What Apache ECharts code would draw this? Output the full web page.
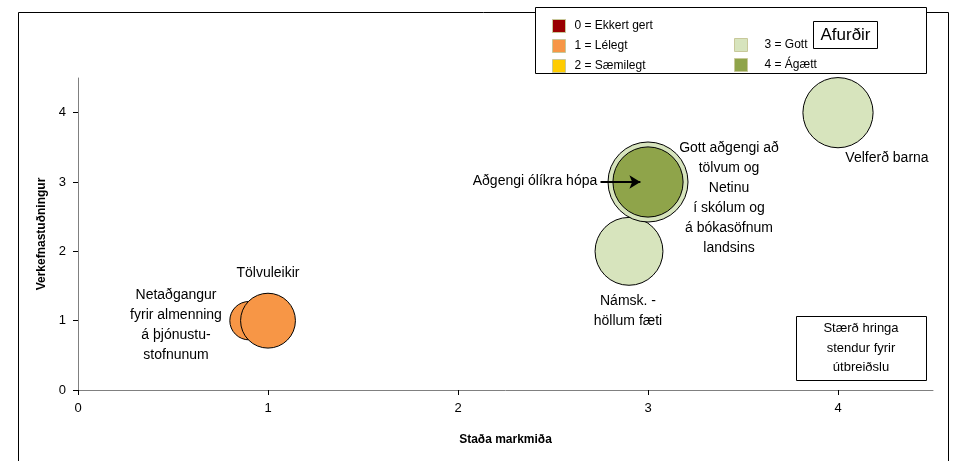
<!DOCTYPE html>
<html><head><meta charset="utf-8">
<script src="https://cdn.jsdelivr.net/npm/echarts@6/dist/echarts.min.js"></script>
<style>html,body{margin:0;padding:0;background:#fff}#c{width:953px;height:461px}</style>
</head><body><div id="c"></div>
<script>
// ---- data ----
const categories = ['0 = Ekkert gert', '1 = Lélegt', '2 = Sæmilegt', '3 = Gott', '4 = Ágætt'];
const itemLabels = [
  'Netaðgangur\nfyrir almenning\ná þjónustu-\nstofnunum',
  'Tölvuleikir',
  'Námsk. -\nhöllum fæti',
  'Gott aðgengi að\ntölvum og\nNetinu\ní skólum og\ná bókasöfnum\nlandsins',
  'Velferð barna',
  'Aðgengi ólíkra hópa'
];
const stadaMarkmida = [0.9, 1, 2.9, 3, 4, 3];
const verkefnastudningur = [1, 1, 2, 3, 4, 3];
const utbreidsla = [23, 47, 72, 100, 77, 77];
const einkunn = [1, 1, 3, 3, 3, 4];
const xTicks = [0, 1, 2, 3, 4];
const yTicks = [0, 1, 2, 3, 4];

// ---- styles / layout ----
const categoryColors = ['#990000', '#F79646', '#FFCC00', '#D7E4BD', '#8FA44A'];
const FONT = '"Liberation Sans", Arial, sans-serif';
const labelLayout = [
  { offset: [-73, 4] },
  { offset: [0, -48] },
  { offset: [-1, 60] },
  { offset: [81, 16] },
  { offset: [49, 45] },
  { offset: [-113, -1] }
];
const arrowIdx = 5;

const series = categories.map((cat, c) => {
  const data = [];
  einkunn.forEach((e, i) => {
    if (e !== c) return;
    data.push({
      name: itemLabels[i],
      value: [stadaMarkmida[i], verkefnastudningur[i], utbreidsla[i]],
      label: {
        show: true, position: 'inside', formatter: itemLabels[i],
        offset: labelLayout[i].offset, align: 'center', verticalAlign: 'middle',
        color: '#000', fontFamily: FONT, fontSize: 14, lineHeight: 20
      }
    });
  });
  const s = {
    name: cat, type: 'scatter', data,
    symbolSize: v => 80 * Math.sqrt(v[2] / 100),
    itemStyle: { color: categoryColors[c], borderColor: '#000', borderWidth: 1, opacity: 1 },
    emphasis: { disabled: true },
    z: 2 + c
  };
  if (c === einkunn[arrowIdx]) {
    s.markLine = {
      silent: true, z: 30, symbol: ['none', 'arrow'], symbolSize: [10, 11],
      lineStyle: { color: '#000', width: 2, type: 'solid' },
      label: { show: false }, emphasis: { disabled: true },
      data: [[
        { coord: [stadaMarkmida[arrowIdx] - 0.25, verkefnastudningur[arrowIdx]] },
        { coord: [stadaMarkmida[arrowIdx] - 0.04, verkefnastudningur[arrowIdx]] }
      ]]
    };
  }
  return s;
});

const legendCommon = {
  orient: 'vertical', icon: 'rect', itemWidth: 13, itemHeight: 13, itemGap: 6,
  selectedMode: false,
  itemStyle: { borderColor: '#C8C89A', borderWidth: 1 },
  textStyle: { fontFamily: FONT, fontSize: 12, color: '#000' }
};

const chart = echarts.init(document.getElementById('c'), null, { renderer: 'canvas' });
chart.setOption({
  animation: false,
  backgroundColor: '#fff',
  grid: { left: 78, right: 20, top: 78, bottom: 71, containLabel: false },
  xAxis: {
    type: 'value', min: 0, max: 4.5, interval: 1,
    name: 'Staða markmiða', nameLocation: 'middle', nameGap: 44,
    nameTextStyle: { fontFamily: FONT, fontSize: 12, fontWeight: 'bold', color: '#000' },
    axisLine: { show: true, lineStyle: { color: '#808080', width: 1 } },
    axisTick: { show: true, length: 5, customValues: xTicks, lineStyle: { color: '#000' } },
    axisLabel: { customValues: xTicks, margin: 12, fontFamily: FONT, fontSize: 13, color: '#000' },
    splitLine: { show: false }
  },
  yAxis: {
    type: 'value', min: 0, max: 4.5, interval: 1,
    name: 'Verkefnastuðningur', nameLocation: 'middle', nameGap: 30,
    nameTextStyle: { fontFamily: FONT, fontSize: 12, fontWeight: 'bold', color: '#000' },
    axisLine: { show: true, lineStyle: { color: '#808080', width: 1 } },
    axisTick: { show: true, length: 5, customValues: yTicks, lineStyle: { color: '#000' } },
    axisLabel: { customValues: yTicks, margin: 12, fontFamily: FONT, fontSize: 13, color: '#000' },
    splitLine: { show: false }
  },
  legend: [
    Object.assign({}, legendCommon, {
      data: categories.slice(0, 3), left: 547, top: 14,
      textStyle: Object.assign({}, legendCommon.textStyle, { padding: [0, 0, 0, 4] })
    }),
    Object.assign({}, legendCommon, {
      data: categories.slice(3), left: 729, top: 33,
      textStyle: Object.assign({}, legendCommon.textStyle, { padding: [0, 0, 0, 12] })
    })
  ],
  graphic: [
    { type: 'rect', z: 0, shape: { x: 18.5, y: 12.5, width: 930, height: 470 },
      style: { fill: 'none', stroke: '#000', lineWidth: 1 }, silent: true },
    { type: 'rect', z: 1, shape: { x: 535.5, y: 7.5, width: 391, height: 66 },
      style: { fill: '#fff', stroke: '#000', lineWidth: 1 }, silent: true },
    { type: 'rect', z: 5, shape: { x: 813.5, y: 21.5, width: 64, height: 27 },
      style: { fill: '#fff', stroke: '#000', lineWidth: 1 }, silent: true },
    { type: 'text', z: 6, x: 845.5, y: 35,
      style: { text: 'Afurðir', fontFamily: FONT, fontSize: 17, fill: '#000', align: 'center', verticalAlign: 'middle' }, silent: true },
    { type: 'rect', z: 5, shape: { x: 796.5, y: 316.5, width: 130, height: 64 },
      style: { fill: '#fff', stroke: '#000', lineWidth: 1 }, silent: true },
    { type: 'text', z: 6, x: 861, y: 348,
      style: { text: 'Stærð hringa\nstendur fyrir\nútbreiðslu', fontFamily: FONT, fontSize: 13, lineHeight: 19.5,
        fill: '#000', align: 'center', verticalAlign: 'middle' }, silent: true }
  ],
  series
});
</script></body></html>
